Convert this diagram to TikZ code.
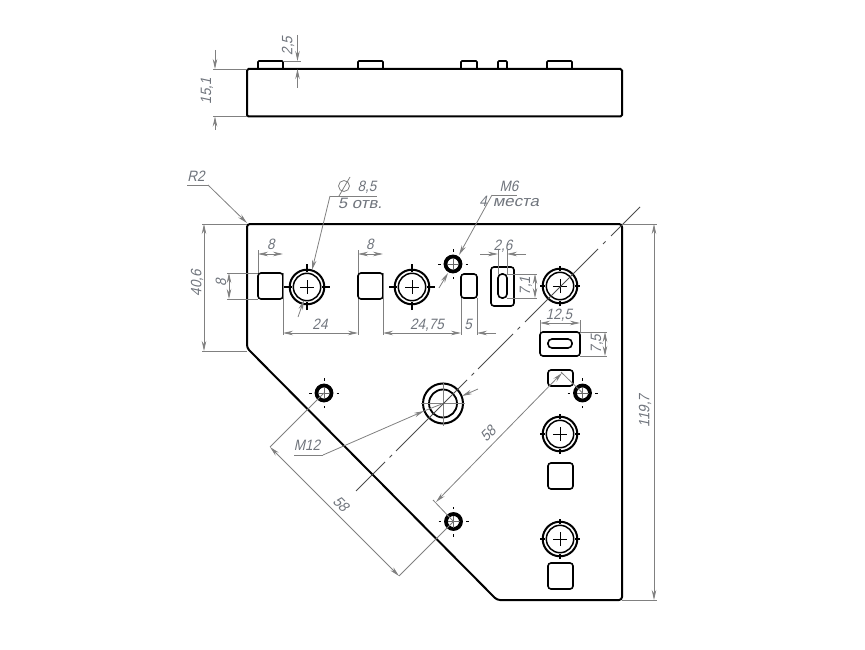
\documentclass[tikz,border=0pt]{standalone}
\usepackage{fontspec}
\setmainfont{Liberation Sans}
\newfontfamily\dimfont[FakeSlant=0.22,FakeStretch=0.9]{Liberation Sans}
\newfontfamily\widefont[FakeSlant=0.22,FakeStretch=1.12]{Liberation Sans}
\usetikzlibrary{arrows.meta}
\definecolor{dimc}{HTML}{808080}
\definecolor{txtc}{HTML}{6F747C}
\tikzset{
  part/.style={line width=2pt,black,rounded corners=3pt},
  inner/.style={line width=1.6pt,black},
  dimline/.style={line width=0.8pt,dimc},
  dima/.style={dimline,-{Stealth[length=10pt,width=4.5pt]}},
  dimb/.style={dimline,{Stealth[length=10pt,width=4.5pt]}-{Stealth[length=10pt,width=4.5pt]}},
  lbl/.style={text=txtc,font=\dimfont\fontsize{15}{15}\selectfont,inner sep=0pt},
  wlbl/.style={text=txtc,font=\widefont\fontsize{15}{15}\selectfont,inner sep=0pt},
  cmark/.style={line width=1.1pt,black},
  axisline/.style={line width=1pt,black!70},
}
\newcommand{\bighole}[2]{%
  \draw[line width=2pt] (#1) circle (17.3);
  \draw[line width=1.5pt] (#1) circle (13.7);
  \draw[cmark] ([xshift=-#2pt]#1) -- ([xshift=-15pt]#1) ([xshift=15pt]#1) -- ([xshift=#2pt]#1)
    ([yshift=-#2pt]#1) -- ([yshift=-15pt]#1) ([yshift=15pt]#1) -- ([yshift=#2pt]#1);
  \draw[line width=0.9pt] ([xshift=-7pt]#1) -- ([xshift=7pt]#1) ([yshift=-7pt]#1) -- ([yshift=7pt]#1);
}
\newcommand{\smallhole}[1]{%
  \draw[line width=3.8pt] (#1) circle (7.5);
  \draw[line width=0.7pt,black!60] ([xshift=-6pt]#1) -- ([xshift=6pt]#1) ([yshift=-6pt]#1) -- ([yshift=6pt]#1);
  \draw[line width=1pt] ([xshift=-15pt]#1) -- ([xshift=-12.5pt]#1) ([xshift=12.5pt]#1) -- ([xshift=15pt]#1)
    ([yshift=-15pt]#1) -- ([yshift=-12.5pt]#1) ([yshift=12.5pt]#1) -- ([yshift=15pt]#1);
}
\begin{document}
\begin{tikzpicture}[x=1pt,y=-1pt]
\useasboundingbox (0,0) rectangle (865,650);
% side view
\draw[part,rounded corners=1.5pt] (247,69) rectangle (622,116.5);
\foreach \a/\b in {258/283,358/383,461/477,498/507,547/572}
  \draw[inner,rounded corners=1pt] (\a,69) -- (\a,61) -- (\b,61) -- (\b,69);
% side view dims
\draw[dimline] (247,69) -- (213,69) (247,116.5) -- (213,116.5);
\draw[dima] (215,50) -- (215,69);
\draw[dima] (215,130) -- (215,116.5);
\node[lbl,rotate=90] (tA) at (207,91) {15,1};
\draw[dimline] (283,61) -- (301,61);
\draw[dima] (297.5,35) -- (297.5,61);
\draw[dima] (297.5,88) -- (297.5,69);
\node[lbl,rotate=90] (tB) at (288,46) {2,5};
% plate
\draw[part] (247,348) -- (247,224) -- (622,224) -- (622,600) -- (497,600) -- cycle;
% squares
\foreach \x/\y/\w/\h in {258/273/25/26,358/273/25/26,461/274/16/24,491/267/23/39,540/332/40/24,548/370/25/16,548/463/25/26,548/563/25/26}
  \draw[inner,rounded corners=3pt] (\x,\y) rectangle ++(\w,\h);
\draw[inner,rounded corners=4pt] (498,274) rectangle (507,298);
\draw[inner,rounded corners=4pt] (548,339) rectangle (572,348);
% holes
\bighole{307,287}{23}
\bighole{412,287}{23}
\bighole{560,286}{20}
\bighole{560,434}{20}
\bighole{560,539}{20}
\smallhole{453,264}
\smallhole{324,393}
\smallhole{582.5,393}
\smallhole{453.5,521.5}
% M12 hole
\draw[line width=2pt] (443,403.5) circle (20);
\draw[line width=1.8pt] (443,403.5) circle (14);
\draw[line width=0.8pt,dimc] (421,403.5) -- (465,403.5) (443,381.5) -- (443,425.5);
% centre line
\draw[axisline] (640,207) -- (611,236) (605.5,241.5) -- (603,244) (598,249) -- (525,322)
  (520,327) -- (517.5,329.5) (513,334) -- (478,369) (474,373) -- (471.5,375.5) (467,380) -- (396,451)
  (392,455) -- (389.5,457.5) (385,462) -- (356,491);
% R2
\node[lbl,anchor=base] (tR) at (196,182) {R2};
\draw[dimline] (187,185) -- (208,185);
\draw[dima] (208,185) -- (247,223);
% diam 8,5
\node[lbl,anchor=base] (tD) at (367,192) {8,5};
\draw[dimline] (344,186) circle (5.5) (339,196) -- (350,177);
\node[wlbl,anchor=base] (tD2) at (360,208) {5 отв.};
\draw[dimline] (330,196) -- (377,196);
\draw[dima] (330,196) -- (312,270);
\draw[dima] (298,317) -- (304,300);
% M6
\node[lbl,anchor=base] (tM) at (509,191) {M6};
\node[lbl,anchor=base] (tM2) at (483,207) {4};
\node[wlbl,anchor=base] (tM3) at (516,207) {места};
\draw[dimline] (492,195) -- (517,195);
\draw[dima] (492,195) -- (459,255);
\draw[dima] (439,288) -- (448,273);
% 8, 8
\draw[dimline] (258,273) -- (258,250) (283,273) -- (283,335);
\draw[dimb] (258,254) -- (283,254);
\node[lbl,anchor=base] (t8a) at (271,249) {8};
\draw[dimline] (358,273) -- (358,250) (383,273) -- (383,335);
\draw[dimb] (358,254) -- (383,254);
\node[lbl,anchor=base] (t8b) at (370,249) {8};
\draw[dimline] (358,299) -- (358,335);
\draw[dimline] (258,273) -- (227,273) (258,299) -- (227,299);
\draw[dimb] (229,273) -- (229,299);
\node[lbl,rotate=90] (t8c) at (221,283) {8};
% 40,6
\draw[dimline] (247,224) -- (202,224) (247,351) -- (202,351);
\draw[dimb] (204,224) -- (204,351);
\node[lbl,rotate=90] (t40) at (197,283) {40,6};
% 24
\draw[dimb] (283,333) -- (358,333);
\node[lbl,anchor=base] (t24) at (320,329) {24};
% 24,75 and 5
\draw[dimline] (461,298) -- (461,335) (477,298) -- (477,335);
\draw[dimb] (383,333) -- (461,333);
\node[lbl,anchor=base] (t2475) at (427,329) {24,75};
\draw[dima] (496,333) -- (477,333);
\node[lbl,anchor=base] (t5) at (468,329) {5};
% 2,6
\draw[dimline] (498,274) -- (498,250) (507,274) -- (507,250);
\draw[dima] (480,254) -- (498,254);
\draw[dima] (526,254) -- (507,254);
\node[lbl,anchor=base] (t26) at (503,250) {2,6};
% 7,1
\draw[dimline] (507,274) -- (537,274) (507,298) -- (537,298);
\draw[dimb] (535,274) -- (535,298);
\node[lbl,rotate=90] (t71) at (526,286) {7,1};
% 12,5
\draw[dimline] (540,332) -- (540,320) (580,332) -- (580,320);
\draw[dimb] (540,323) -- (580,323);
\node[lbl,anchor=base] (t125) at (559,319) {12,5};
% 7,5
\draw[dimline] (580,332) -- (607,332) (580,356) -- (607,356);
\draw[dimb] (605,332) -- (605,356);
\node[lbl,rotate=90] (t75) at (597,344) {7,5};
% 119,7
\draw[dimline] (622,224) -- (657,224) (622,600) -- (657,600);
\draw[dimb] (654,224) -- (654,600);
\node[lbl,rotate=90] (t119) at (645,411) {119,7};
% diagonal 58 dims
\draw[dimline] (324,393) -- (270,447) (453.5,521.5) -- (399,576);
\draw[dimb] (270,447) -- (399,576);
\node[lbl,rotate=-45] (t58a) at (341,504) {58};
\draw[dimline] (582.5,393) -- (561,372) (453.5,521.5) -- (433,500);
\draw[dimb] (436,502) -- (562,373);
\node[lbl,rotate=45] (t58b) at (488,434) {58};
% M12
\node[lbl,anchor=base] (t12) at (307,450) {M12};
\draw[dimline] (294,455) -- (323,455);
\draw[dima] (323,455) -- (424,411);
\draw[dimline] (424,411) -- (443,403.5);
\draw[dima] (478,389) -- (462,396);
\end{tikzpicture}
\end{document}
